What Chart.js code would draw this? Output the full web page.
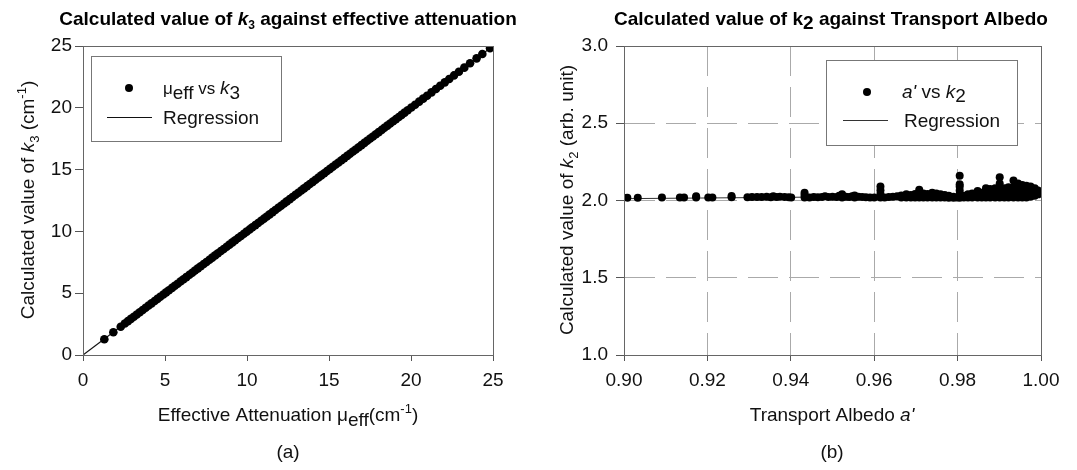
<!DOCTYPE html>
<html><head><meta charset="utf-8">
<script src="https://cdn.jsdelivr.net/npm/chart.js@4.4.1/dist/chart.umd.min.js"></script>
<style>
html,body{margin:0;padding:0;background:#fff;}
#wrap{position:relative;width:1077px;height:470px;overflow:hidden;}
.c{position:absolute;top:0;}
</style></head><body>
<div id="wrap">
<div class="c" style="left:0"><canvas id="ca" width="538" height="470"></canvas></div>
<div class="c" style="left:538px"><canvas id="cb" width="539" height="470"></canvas></div>
</div>
<script>
const FONT = "'Liberation Sans', Arial, Helvetica, sans-serif";

// ---------- Panel (a): k3 vs effective attenuation ----------
const muEff = [1.30, 1.85, 2.30, 2.55, 2.74, 2.92, 3.10, 3.28, 3.46, 3.64, 3.82, 4.00, 4.18, 4.37, 4.54, 4.71, 4.90, 5.07, 5.24, 5.43, 5.60, 5.77, 5.96, 6.13, 6.30, 6.49, 6.66, 6.83, 7.01, 7.18, 7.36, 7.53, 7.71, 7.88, 8.06, 8.23, 8.41, 8.58, 8.76, 8.93, 9.11, 9.28, 9.46, 9.63, 9.81, 9.98, 10.16, 10.33, 10.51, 10.68, 10.86, 11.03, 11.21, 11.38, 11.56, 11.73, 11.91, 12.08, 12.26, 12.43, 12.61, 12.78, 12.96, 13.13, 13.31, 13.48, 13.66, 13.83, 14.01, 14.18, 14.36, 14.53, 14.71, 14.88, 15.06, 15.23, 15.41, 15.58, 15.76, 15.93, 16.11, 16.28, 16.46, 16.63, 16.81, 16.98, 17.16, 17.33, 17.51, 17.68, 17.86, 18.03, 18.21, 18.38, 18.56, 18.73, 18.91, 19.08, 19.26, 19.43, 19.61, 19.80, 20.02, 20.25, 20.50, 20.74, 20.98, 21.25, 21.52, 21.78, 22.06, 22.33, 22.62, 22.92, 23.25, 23.60, 24.00, 24.35, 24.82];
const k3 = [1.28, 1.84, 2.29, 2.55, 2.74, 2.92, 3.10, 3.28, 3.46, 3.64, 3.82, 4.00, 4.18, 4.37, 4.54, 4.71, 4.90, 5.07, 5.24, 5.43, 5.60, 5.77, 5.96, 6.13, 6.30, 6.49, 6.66, 6.83, 7.01, 7.18, 7.36, 7.53, 7.71, 7.88, 8.06, 8.23, 8.41, 8.58, 8.76, 8.93, 9.11, 9.28, 9.46, 9.63, 9.81, 9.98, 10.16, 10.33, 10.51, 10.68, 10.86, 11.03, 11.21, 11.38, 11.56, 11.73, 11.91, 12.08, 12.26, 12.43, 12.61, 12.78, 12.96, 13.13, 13.31, 13.48, 13.66, 13.83, 14.01, 14.18, 14.36, 14.53, 14.71, 14.88, 15.06, 15.23, 15.41, 15.58, 15.76, 15.93, 16.11, 16.28, 16.46, 16.63, 16.81, 16.98, 17.16, 17.33, 17.51, 17.68, 17.86, 18.03, 18.21, 18.38, 18.56, 18.73, 18.91, 19.08, 19.26, 19.43, 19.61, 19.80, 20.02, 20.25, 20.50, 20.74, 20.98, 21.25, 21.52, 21.78, 22.06, 22.33, 22.62, 22.92, 23.25, 23.60, 24.00, 24.35, 24.82];
const regAx = [0, 25];
const regAy = [0, 25];
const ticksA = [0, 5, 10, 15, 20, 25];

// ---------- Panel (b): k2 vs transport albedo ----------
const albedo = [
 0.9008, 0.9033, 0.9091, 0.9134, 0.9144, 0.9173, 0.9173, 0.9202, 0.9212, 0.9258, 0.9258, 0.9296, 0.9307, 0.9319, 0.9330, 0.9342, 0.9352, 0.9358, 0.9366, 0.9374, 0.9385, 0.9395, 0.9401,
 0.9433, 0.9433, 0.9433, 0.9445, 0.9455, 0.9465, 0.9475, 0.9482, 0.9490, 0.9500, 0.9510, 0.9516, 0.9523, 0.9523, 0.9532, 0.9540, 0.9547, 0.9553, 0.9553, 0.9562, 0.9571, 0.9580, 0.9590, 0.9600,
 0.9615, 0.9615, 0.9615, 0.9615, 0.9625, 0.9635, 0.9645, 0.9655, 0.9665, 0.9665, 0.9677, 0.9677, 0.9688, 0.9688, 0.9698, 0.9698, 0.9708, 0.9708, 0.9708, 0.9718, 0.9718, 0.9728, 0.9728, 0.9739, 0.9739, 0.9749, 0.9749, 0.9759, 0.9759, 0.9769, 0.9769, 0.9779, 0.9779, 0.9790, 0.9790, 0.9798,
 0.9805, 0.9805, 0.9805, 0.9805, 0.9805, 0.9805, 0.9815, 0.9815, 0.9825, 0.9825, 0.9835, 0.9835, 0.9848, 0.9848, 0.9848, 0.9858, 0.9858, 0.9868, 0.9868, 0.9868, 0.9878, 0.9878, 0.9878, 0.9890, 0.9890, 0.9890,
 0.9901, 0.9901, 0.9901, 0.9901, 0.9901, 0.9912, 0.9912, 0.9912, 0.9922, 0.9922, 0.9922, 0.9934, 0.9934, 0.9934, 0.9934, 0.9945, 0.9945, 0.9945, 0.9945, 0.9955, 0.9955, 0.9955, 0.9955, 0.9965, 0.9965, 0.9965, 0.9965, 0.9975, 0.9975, 0.9975, 0.9975, 0.9985, 0.9985, 0.9985, 0.9993, 0.9993, 0.9997];
const k2 = [
 2.018, 2.018, 2.019, 2.019, 2.020, 2.020, 2.027, 2.020, 2.020, 2.021, 2.029, 2.021, 2.022, 2.022, 2.023, 2.024, 2.021, 2.027, 2.022, 2.024, 2.022, 2.021, 2.020,
 2.020, 2.035, 2.050, 2.020, 2.022, 2.021, 2.023, 2.027, 2.022, 2.024, 2.022, 2.030, 2.020, 2.040, 2.024, 2.022, 2.028, 2.020, 2.032, 2.024, 2.022, 2.021, 2.020, 2.020,
 2.020, 2.042, 2.066, 2.090, 2.020, 2.022, 2.025, 2.028, 2.020, 2.033, 2.020, 2.040, 2.020, 2.036, 2.020, 2.042, 2.020, 2.045, 2.070, 2.020, 2.045, 2.020, 2.042, 2.020, 2.050, 2.020, 2.045, 2.020, 2.040, 2.019, 2.035, 2.018, 2.030, 2.018, 2.025, 2.020,
 2.018, 2.040, 2.065, 2.090, 2.105, 2.160, 2.020, 2.030, 2.020, 2.040, 2.020, 2.045, 2.020, 2.045, 2.062, 2.020, 2.050, 2.020, 2.050, 2.080, 2.020, 2.050, 2.075, 2.020, 2.055, 2.080,
 2.020, 2.050, 2.080, 2.110, 2.150, 2.020, 2.050, 2.080, 2.020, 2.050, 2.085, 2.020, 2.050, 2.085, 2.130, 2.020, 2.050, 2.085, 2.110, 2.020, 2.050, 2.080, 2.100, 2.020, 2.050, 2.080, 2.095, 2.025, 2.050, 2.080, 2.090, 2.030, 2.055, 2.080, 2.040, 2.065, 2.055];
const regBx = [0.90, 1.00];
const regBy = [2.012, 2.034];
const ticksBx = [0.90, 0.92, 0.94, 0.96, 0.98, 1.00];
const ticksBy = [1.0, 1.5, 2.0, 2.5, 3.0];

// ---------- text helpers ----------
function fontOf(s, base){
  const bold = (s.b !== undefined ? s.b : base.b);
  return (s.i ? 'italic ' : '') + (bold ? 'bold ' : '') + (s.size || base.size) + 'px ' + FONT;
}
function rich(ctx, segs, x, y, align, base){
  ctx.save();
  ctx.textAlign = 'left'; ctx.textBaseline = 'alphabetic'; ctx.fillStyle = base.color || '#111';
  let w = 0;
  const ws = segs.map(s => { ctx.font = fontOf(s, base); const v = ctx.measureText(s.t).width; w += v; return v; });
  let cx = align === 'center' ? x - w / 2 : (align === 'right' ? x - w : x);
  segs.forEach((s, i) => { ctx.font = fontOf(s, base); ctx.fillText(s.t, cx, y + (s.dy || 0)); cx += ws[i]; });
  ctx.restore();
}
function richRot(ctx, segs, cx, cy, base){
  ctx.save(); ctx.translate(cx, cy); ctx.rotate(-Math.PI / 2);
  rich(ctx, segs, 0, 0, 'center', base); ctx.restore();
}
function frameRect(ctx, a, color){
  const l = Math.round(a.left - 0.5) + 0.5, r = Math.round(a.right - 0.5) + 0.5;
  const t = Math.round(a.top - 0.5) + 0.5, b = Math.round(a.bottom - 0.5) + 0.5;
  ctx.save(); ctx.strokeStyle = color; ctx.lineWidth = 1; ctx.setLineDash([]);
  ctx.strokeRect(l, t, r - l, b - t); ctx.restore();
}
function legendBox(ctx, x, y, w, h){
  ctx.save(); ctx.fillStyle = '#fff'; ctx.fillRect(x, y, w, h);
  ctx.strokeStyle = '#777'; ctx.lineWidth = 1; ctx.strokeRect(x + 0.5, y + 0.5, w, h); ctx.restore();
}
function dot(ctx, x, y, r){ ctx.save(); ctx.fillStyle = '#000'; ctx.beginPath(); ctx.arc(x, y, r, 0, Math.PI * 2); ctx.fill(); ctx.restore(); }
function hline(ctx, x1, x2, y, col, w){ ctx.save(); ctx.strokeStyle = col; ctx.lineWidth = w; ctx.beginPath(); ctx.moveTo(x1, y); ctx.lineTo(x2, y); ctx.stroke(); ctx.restore(); }

const base19 = {size: 19, color: '#111'};
const sharedTicks = {font: {family: FONT, size: 19}, color: '#111', maxRotation: 0, autoSkip: false};

// ---------- Chart (a) ----------
const decorA = {
  id: 'decorA',
  afterDraw(chart){
    const ctx = chart.ctx, a = chart.chartArea;
    frameRect(ctx, a, '#666');
    rich(ctx, [{t: 'Calculated value of '}, {t: 'k', i: 1}, {t: '3', size: 12, dy: 4}, {t: ' against effective attenuation'}], 288, 25, 'center', {size: 19, b: 1, color: '#000'});
    rich(ctx, [{t: 'Effective Attenuation '}, {t: 'μ'}, {t: 'eff', dy: 5}, {t: '(cm'}, {t: '-1', size: 13, dy: -8}, {t: ')'}], 288, 421, 'center', base19);
    rich(ctx, [{t: '(a)'}], 288, 458, 'center', base19);
    richRot(ctx, [{t: 'Calculated value of '}, {t: 'k', i: 1}, {t: '3', size: 13, dy: 5}, {t: ' (cm'}, {t: '-1', size: 13, dy: -8}, {t: ')'}], 34, 200, base19);
    legendBox(ctx, 91, 56, 190, 85);
    dot(ctx, 129, 88, 4);
    rich(ctx, [{t: 'μ', size: 17}, {t: 'eff', dy: 5}, {t: ' vs ', size: 17}, {t: 'k', i: 1}, {t: '3', dy: 5}], 163, 94, 'left', base19);
    hline(ctx, 107, 152, 117.5, '#111', 1.2);
    rich(ctx, [{t: 'Regression'}], 163, 124, 'left', base19);
  }
};

new Chart(document.getElementById('ca'), {
  type: 'scatter',
  data: {
    datasets: [
      {data: regAx.map((x, i) => ({x: x, y: regAy[i]})), showLine: true, borderColor: '#111', borderWidth: 1.2, pointRadius: 0, order: 2},
      {data: muEff.map((x, i) => ({x: x, y: k3[i]})), pointRadius: 4.3, pointBackgroundColor: '#000', pointBorderWidth: 0, pointHoverRadius: 4.3, order: 1}
    ]
  },
  options: {
    responsive: false, animation: false, devicePixelRatio: 1,
    layout: {padding: {left: 0, top: 46, right: 45, bottom: 0}},
    plugins: {legend: {display: false}, tooltip: {enabled: false}},
    scales: {
      x: {type: 'linear', min: 0, max: 25,
        afterBuildTicks: s => { s.ticks = ticksA.map(v => ({value: v})); },
        afterFit: s => { s.height = 115; },
        grid: {drawOnChartArea: false, drawTicks: true, tickLength: 6, tickColor: '#555', color: '#555'},
        border: {display: true, color: '#666'},
        ticks: Object.assign({}, sharedTicks, {padding: 8})},
      y: {type: 'linear', min: 0, max: 25,
        afterBuildTicks: s => { s.ticks = ticksA.map(v => ({value: v})); },
        afterFit: s => { s.width = 83; },
        grid: {drawOnChartArea: false, drawTicks: true, tickLength: 8, tickColor: '#555', color: '#555'},
        border: {display: true, color: '#666'},
        ticks: Object.assign({}, sharedTicks, {padding: 3})}
    }
  },
  plugins: [decorA]
});

// ---------- Chart (b) ----------
const decorB = {
  id: 'decorB',
  afterDraw(chart){
    const ctx = chart.ctx, a = chart.chartArea;
    frameRect(ctx, a, '#666');
    rich(ctx, [{t: 'Calculated value of k'}, {t: '2', dy: 4}, {t: ' against Transport Albedo'}], 293, 25, 'center', {size: 19, b: 1, color: '#000'});
    rich(ctx, [{t: 'Transport Albedo '}, {t: "a'", i: 1}], 294, 421, 'center', base19);
    rich(ctx, [{t: '(b)'}], 294, 458, 'center', base19);
    richRot(ctx, [{t: 'Calculated value of '}, {t: 'k', i: 1}, {t: '2', size: 13, dy: 5}, {t: ' (arb. unit)'}], 35, 200, base19);
    legendBox(ctx, 288, 60, 191, 85);
    dot(ctx, 329, 92, 4);
    rich(ctx, [{t: "a'", i: 1}, {t: ' vs '}, {t: 'k', i: 1}, {t: '2', dy: 4}], 364, 98, 'left', base19);
    hline(ctx, 305, 350, 120.5, '#333', 1);
    rich(ctx, [{t: 'Regression'}], 366, 127, 'left', base19);
  }
};

new Chart(document.getElementById('cb'), {
  type: 'scatter',
  data: {
    datasets: [
      {data: regBx.map((x, i) => ({x: x, y: regBy[i]})), showLine: true, borderColor: '#333', borderWidth: 1, pointRadius: 0, order: 2},
      {data: albedo.map((x, i) => ({x: x, y: k2[i]})), pointRadius: 4, pointBackgroundColor: '#000', pointBorderWidth: 0, pointHoverRadius: 4, order: 1}
    ]
  },
  options: {
    responsive: false, animation: false, devicePixelRatio: 1,
    layout: {padding: {left: 0, top: 46, right: 36, bottom: 0}},
    plugins: {legend: {display: false}, tooltip: {enabled: false}},
    scales: {
      x: {type: 'linear', min: 0.90, max: 1.00,
        afterBuildTicks: s => { s.ticks = ticksBx.map(v => ({value: v})); },
        afterFit: s => { s.height = 115; },
        grid: {drawOnChartArea: true, drawTicks: true, tickLength: 6, tickColor: '#555', color: '#aaa', tickBorderDash: []},
        border: {display: true, color: '#666', dash: [30, 11]},
        ticks: Object.assign({}, sharedTicks, {padding: 8, callback: v => Number(v).toFixed(2)})},
      y: {type: 'linear', min: 1.0, max: 3.0,
        afterBuildTicks: s => { s.ticks = ticksBy.map(v => ({value: v})); },
        afterFit: s => { s.width = 86; },
        grid: {drawOnChartArea: true, drawTicks: true, tickLength: 8, tickColor: '#555', color: '#aaa', tickBorderDash: []},
        border: {display: true, color: '#666', dash: [30, 11]},
        ticks: Object.assign({}, sharedTicks, {padding: 8, callback: v => Number(v).toFixed(1)})}
    }
  },
  plugins: [decorB]
});
</script>
</body></html>
